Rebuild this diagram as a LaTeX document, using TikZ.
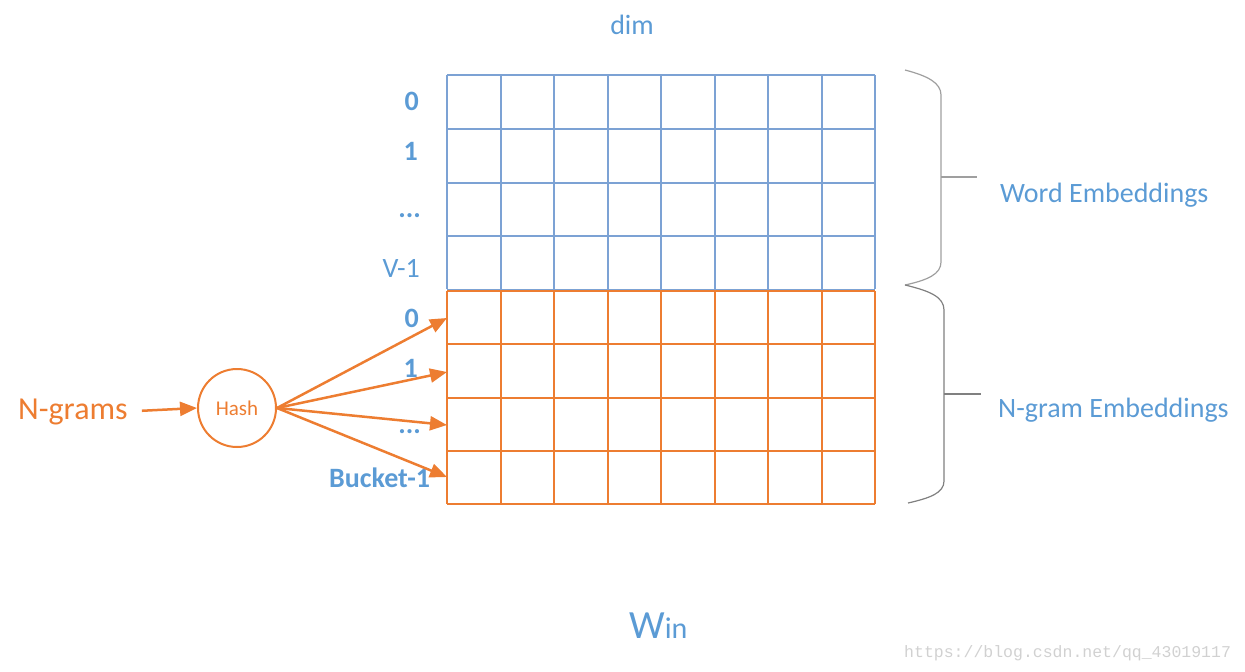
\documentclass[tikz,border=0pt]{standalone}
\usepackage{fontspec}
\setmainfont{Carlito}
\newfontfamily\urlfont{Liberation Mono}
\usepackage{tikz}
\usetikzlibrary{arrows.meta}
\definecolor{wblue}{RGB}{91,155,213}
\definecolor{wgridcol}{RGB}{124,162,212}
\definecolor{ngorange}{RGB}{237,125,49}
\tikzstyle{lbl}=[text=wblue, inner sep=0pt, font=\fontsize{28}{28}\selectfont\bfseries]
\tikzstyle{title}=[text=wblue, inner sep=0pt, font=\fontsize{28}{28}\selectfont]
\tikzstyle{wgrid}=[draw=wgridcol, line width=2pt]
\tikzstyle{ngrid}=[draw=ngorange, line width=2pt]
\tikzstyle{hashnode}=[draw=ngorange, line width=2pt, circle, minimum size=78pt, inner sep=0pt,
  text=ngorange, font=\fontsize{21}{21}\selectfont]
\tikzstyle{brace}=[draw=gray!75, line width=1.2pt]

\begin{document}
\begin{tikzpicture}[x=1pt,y=-1pt,>={Triangle[length=17pt,width=14pt]}]
    \useasboundingbox (0,0) rectangle (1245,672);
    % word embedding rows
    \foreach \i in {0,...,4}
      \draw[wgrid] (447,{75+\i*53.75}) -- (875,{75+\i*53.75});
    \foreach \j in {0,...,8}
      \draw[wgrid] ({447+\j*53.5},75) -- ({447+\j*53.5},289);
    % n-gram rows
    \foreach \i in {0,...,4}
      \draw[ngrid] (447,{291+\i*53.25}) -- (875,{291+\i*53.25});
    \foreach \j in {0,...,8}
      \draw[ngrid] ({447+\j*53.5},291) -- ({447+\j*53.5},504);

    \node[title, anchor=base] (dim) at (632,34) {dim};
    \node[lbl, anchor=base east] (w0) at (419,110) {0};
    \node[lbl, anchor=base east] (w1) at (418,160) {1};
    \node[lbl, anchor=base east] (wdots) at (421,217) {...};
    \node[lbl, anchor=base east, font=\fontsize{28}{28}\selectfont] (wlast) at (420,277) {V-1};
    \node[lbl, anchor=base east] (n0) at (419,327) {0};
    \node[lbl, anchor=base east] (n1) at (418,377) {1};
    \node[lbl, anchor=base east] (ndots) at (421,433) {...};
    \node[lbl, anchor=base west] (nlast) at (329,487) {Bucket-1};

    \node[hashnode] (hash) at (237,408) {Hash};
    \node[text=ngorange, inner sep=0pt, anchor=base west, font=\fontsize{32}{32}\selectfont] (ngrams) at (18,419) {N-grams};
    \coordinate (r0) at (447,318);
    \coordinate (r1) at (447,372);
    \coordinate (r2) at (447,425);
    \coordinate (r3) at (447,477);
    \draw[->, draw=ngorange, fill=ngorange, line width=2.5pt, shorten <=14pt] (ngrams.east) -- (hash.west);
    \foreach \r in {r0,r1,r2,r3}
      \draw[->, draw=ngorange, fill=ngorange, line width=2.5pt] (hash.east) -- (\r);

    % braces
    \draw[brace] (905,70) .. controls (928,76) and (941,83) .. (941,95) -- (941,262)
      .. controls (941,274) and (928,280) .. (905,285);
    \draw[brace] (941,177) -- (977,177);
    \draw[brace, draw=gray] (905,285) .. controls (930,291) and (944,297) .. (944,310) -- (944,481)
      .. controls (944,493) and (930,498) .. (908,503);
    \draw[brace, draw=gray] (944,394) -- (981,394);
    \node[title, anchor=base west] (wordemb) at (1000,202) {Word Embeddings};
    \node[title, anchor=base west] (ngramemb) at (998,417) {N-gram Embeddings};

    \node[text=wblue, inner sep=0pt, anchor=base west] (win) at (629,638)
      {{\fontsize{40}{40}\selectfont W}{\fontsize{30}{30}\selectfont in}};
    \node[text=black!18, inner sep=0pt, anchor=base west, font=\urlfont\fontsize{16.5}{16.5}\selectfont] (url) at (904,657)
      {https://blog.csdn.net/qq\_43019117};
\end{tikzpicture}
\end{document}
